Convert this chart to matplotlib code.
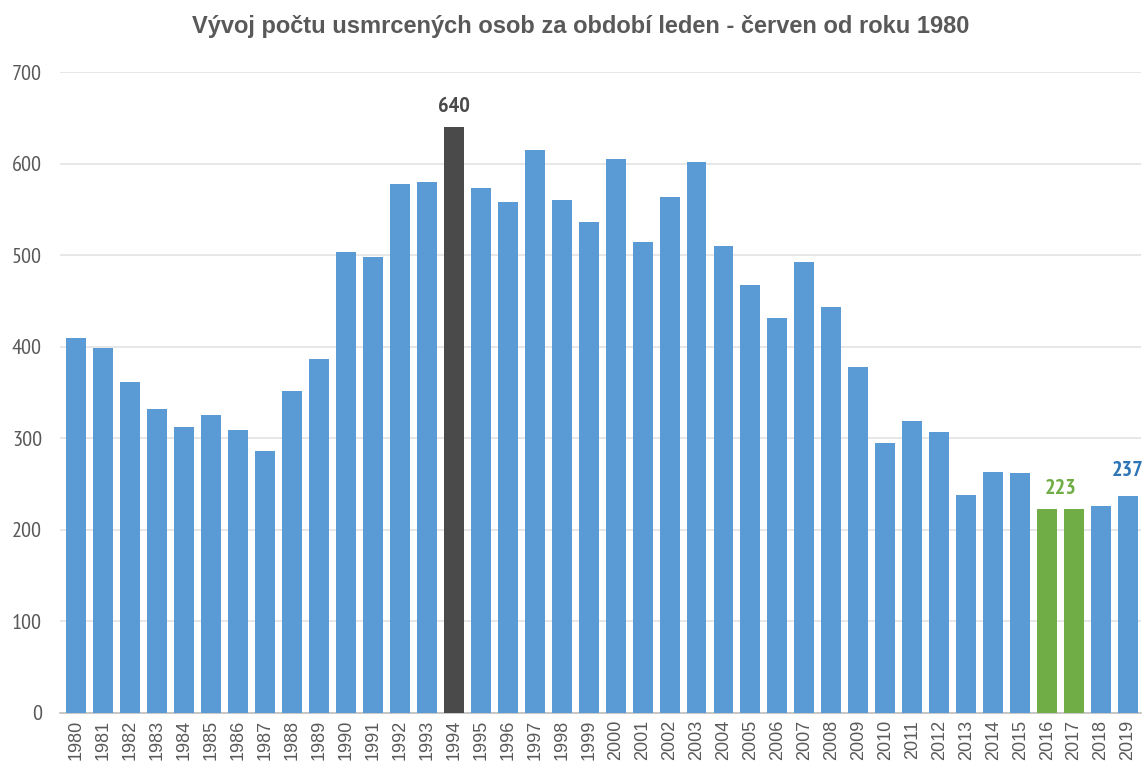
import numpy as np
import matplotlib
matplotlib.use("Agg")
import matplotlib.pyplot as plt

# data
years = np.arange(1980, 2020)
deaths = np.array([409, 399, 362, 332, 312, 325, 309, 286, 352, 387,
                   503, 498, 578, 580, 640, 573, 558, 615, 560, 536,
                   605, 514, 563, 602, 510, 467, 431, 492, 443, 378,
                   295, 319, 307, 238, 263, 262, 223, 223, 226, 237])

blue = "#5B9BD5"
green = "#70AD47"
dark = "#4A4A4A"
txt = "#595959"
narrow = ["PT Sans Narrow", "DejaVu Sans"]

colors = [blue] * len(years)
colors[list(years).index(1994)] = dark
colors[list(years).index(2016)] = green
colors[list(years).index(2017)] = green

plt.rcParams["font.family"] = ["Liberation Sans", "DejaVu Sans"]

fig = plt.figure(figsize=(11.45, 7.67), dpi=100)
ax = fig.add_axes([60 / 1145, 1 - 713 / 767, (1141 - 60) / 1145, (713 - 72) / 767])

x = np.arange(len(years))
ax.bar(x, deaths, width=0.74, color=colors, zorder=3)

ax.set_ylim(0, 700)
ax.set_xlim(-0.6, len(years) - 0.52)
ax.set_yticks(np.arange(0, 701, 100))
ax.set_yticklabels([str(v) for v in range(0, 701, 100)], family=narrow, fontsize=16)
ax.set_xticks(x)
ax.set_xticklabels([str(y) for y in years], rotation=90, fontsize=13, color=txt)
ax.tick_params(axis="y", colors=txt, length=0, pad=13)
ax.tick_params(axis="x", length=0, pad=5)
ax.grid(axis="y", color="#E3E3E3", linewidth=1.2, zorder=0)
for s in ["top", "right", "left"]:
    ax.spines[s].set_visible(False)
ax.spines["bottom"].set_color("#BFBFBF")
ax.spines["bottom"].set_linewidth(1.2)

# value labels
i94 = list(years).index(1994)
ax.text(x[i94], deaths[i94] + 12, str(deaths[i94]), ha="center", va="bottom",
        fontsize=16, fontweight="bold", color=dark, family=narrow)
i16 = list(years).index(2016)
ax.text((x[i16] + x[i16 + 1]) / 2, deaths[i16] + 12, str(deaths[i16]), ha="center",
        va="bottom", fontsize=16, fontweight="bold", color=green, family=narrow)
i19 = list(years).index(2019)
ax.text(x[i19], deaths[i19] + 17, str(deaths[i19]), ha="center", va="bottom",
        fontsize=16, fontweight="bold", color="#2E75B6", family=narrow, clip_on=False)

fig.text(0.5 * (192 + 970) / 1145, 1 - 33 / 767, "Vývoj počtu usmrcených osob za období leden - červen od roku 1980",
         ha="center", va="baseline", fontsize=17, fontweight="bold", color=txt)

fig.savefig("out.png", dpi=100)
